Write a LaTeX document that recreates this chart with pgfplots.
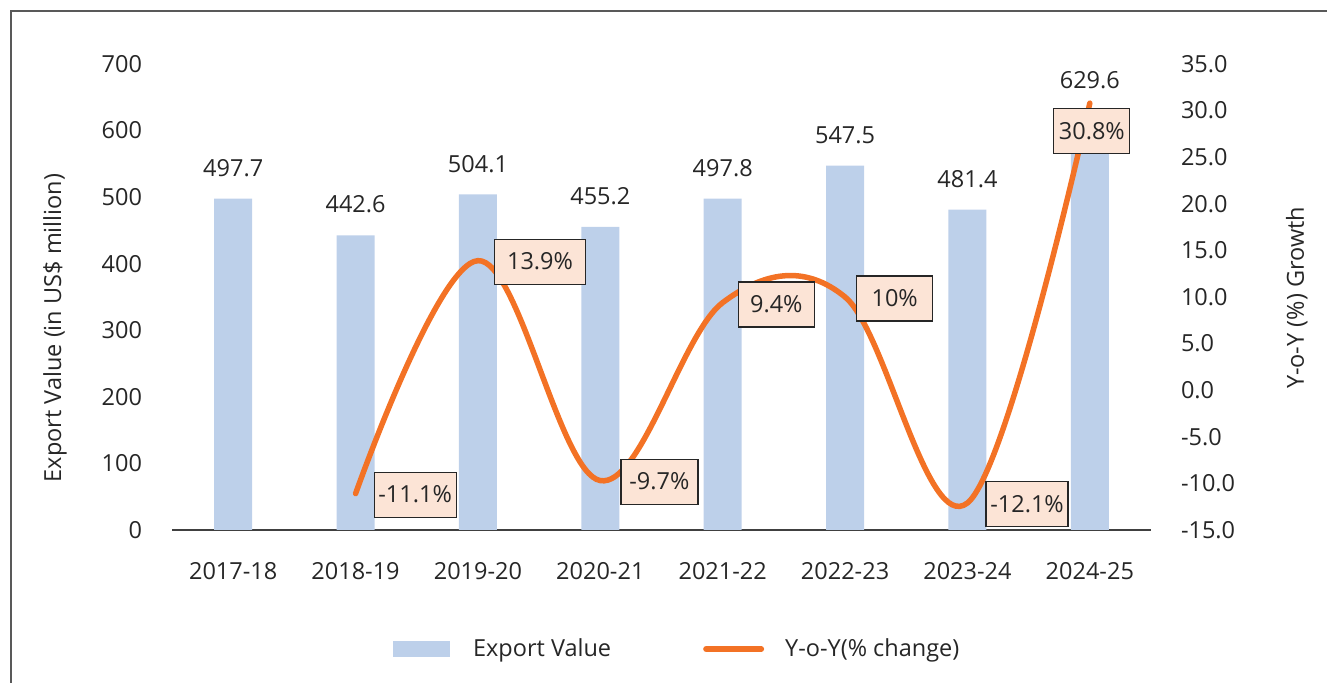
\documentclass[border=0pt]{standalone}
\usepackage{pgfplots}
\pgfplotsset{compat=1.18}
\usepackage{fontspec}
\setmainfont{Open Sans}
\definecolor{barblue}{HTML}{BDD0EA}
\definecolor{lineor}{HTML}{F37225}
\definecolor{boxfill}{HTML}{FCE4D6}
\definecolor{txt}{HTML}{262626}
\pgfkeys{/pgf/number format/assume math mode=true}
\begin{document}
\fontsize{23.5bp}{28bp}\selectfont
\begin{tikzpicture}[x=1bp,y=1bp]
\begin{axis}[
  at={(172bp,153bp)}, anchor=south west,
  scale only axis, width=979bp, height=466bp,
  xmin=-0.5, xmax=7.5, ymin=0, ymax=700,
  xtick=data,
  xticklabels={2017-18,2018-19,2019-20,2020-21,2021-22,2022-23,2023-24,2024-25},
  ytick={0,100,...,700},
  axis y line*=left, axis x line*=bottom,
  y axis line style={draw=none},
  x axis line style={draw=black!75, line width=1.3bp, -},
  major tick length=0pt,
  tick label style={color=txt, font=\fontsize{23.5bp}{28bp}\selectfont},
  yticklabel style={xshift=-22bp},
  xticklabel style={yshift=-24bp},
  ylabel={Export Value (in US\$ million)},
  ylabel style={color=txt, at={(axis description cs:-0.1195,0.4335)}, anchor=center, rotate=0},
  nodes near coords={\pgfmathprintnumber[fixed,fixed zerofill,precision=1]{\pgfplotspointmeta}},
  every node near coord/.append style={color=txt, font=\fontsize{23.5bp}{28bp}\selectfont, yshift=14bp},
  clip=false,
]
\addplot[ybar, bar width=38bp, fill=barblue, draw=none] coordinates {
(0,497.7) (1,442.6) (2,504.1) (3,455.2) (4,497.8) (5,547.5) (6,481.4) (7,629.6)};
\end{axis}
\begin{axis}[
  at={(172bp,153bp)}, anchor=south west,
  scale only axis, width=979bp, height=466bp,
  xmin=-0.5, xmax=7.5, ymin=-15, ymax=35,
  axis x line=none, axis y line*=right,
  y axis line style={draw=none},
  ytick={-15,-10,...,35},
  major tick length=0pt,
  yticklabel style={color=txt, font=\fontsize{23.5bp}{28bp}\selectfont, anchor=west, xshift=22bp},
  yticklabel={\pgfmathprintnumber[fixed,fixed zerofill,precision=1]{\tick}},
  ylabel={Y-o-Y (\%) Growth},
  ylabel style={color=txt, at={(axis description cs:1.149,0.498)}, anchor=center},
  clip=false,
  legend style={at={(0.515,-0.2554)}, anchor=center, draw=none, fill=none,
    legend columns=4, font=\fontsize{23.5bp}{28bp}\selectfont, text=txt,
    nodes={inner sep=0pt},
    /tikz/every even column/.append style={column sep=92bp}},
  legend cell align=left,
]
\addlegendimage{area legend, fill=barblue, draw=none, legend image code/.code={\path[draw=none,fill=none] (0bp,-9bp) rectangle (57bp,9bp); \fill[barblue] (0bp,-8bp) rectangle (57bp,8bp);}}
\addlegendentry{\hspace{23bp}Export Value}
\addplot[color=lineor, line width=5.5bp, smooth, tension=0.6, line cap=round,
  legend image code/.code={\path[draw=none,fill=none] (0bp,-9bp) rectangle (61bp,9bp); \draw[lineor, line width=6bp, line cap=round] (3bp,0bp) -- (58bp,0bp);}] coordinates {
(1,-11.1) (2,13.9) (3,-9.7) (4,9.4) (5,10) (6,-12.1) (7,30.8)};
\addlegendentry{\hspace{21bp}Y-o-Y(\% change)}
\tikzset{lab/.style={fill=boxfill, draw=black!85, line width=1.2bp, inner xsep=2bp, inner ysep=0bp,
  minimum height=45bp, text=txt, font=\fontsize{23.5bp}{28bp}\selectfont}}
\node[lab, minimum width=82bp, anchor=west, xshift=18bp, yshift=-1bp] at (axis cs:1,-11.1) {-11.1\%};
\node[lab, minimum width=91bp, anchor=west, xshift=16bp, yshift=-1bp] at (axis cs:2,13.9) {13.9\%};
\node[lab, minimum width=77bp, anchor=west, xshift=20bp, yshift=-1bp] at (axis cs:3,-9.7) {-9.7\%};
\node[lab, minimum width=76bp, anchor=west, xshift=15bp, yshift=-2bp] at (axis cs:4,9.4) {9.4\%};
\node[lab, minimum width=76bp, anchor=west, xshift=11bp, yshift=-1.5bp] at (axis cs:5,10) {10\%};
\node[lab, minimum width=82bp, anchor=west, xshift=18bp, yshift=-1bp] at (axis cs:6,-12.1) {-12.1\%};
\node[lab, minimum width=76bp, anchor=north, xshift=2bp, yshift=-5bp] at (axis cs:7,30.8) {30.8\%};
\end{axis}
\draw[color=black!65, line width=1.2bp] (11bp,-20bp) rectangle (1345bp,672bp);
\pgfresetboundingbox
\path (0bp,0bp) rectangle (1327bp,683bp);
\end{tikzpicture}
\end{document}
